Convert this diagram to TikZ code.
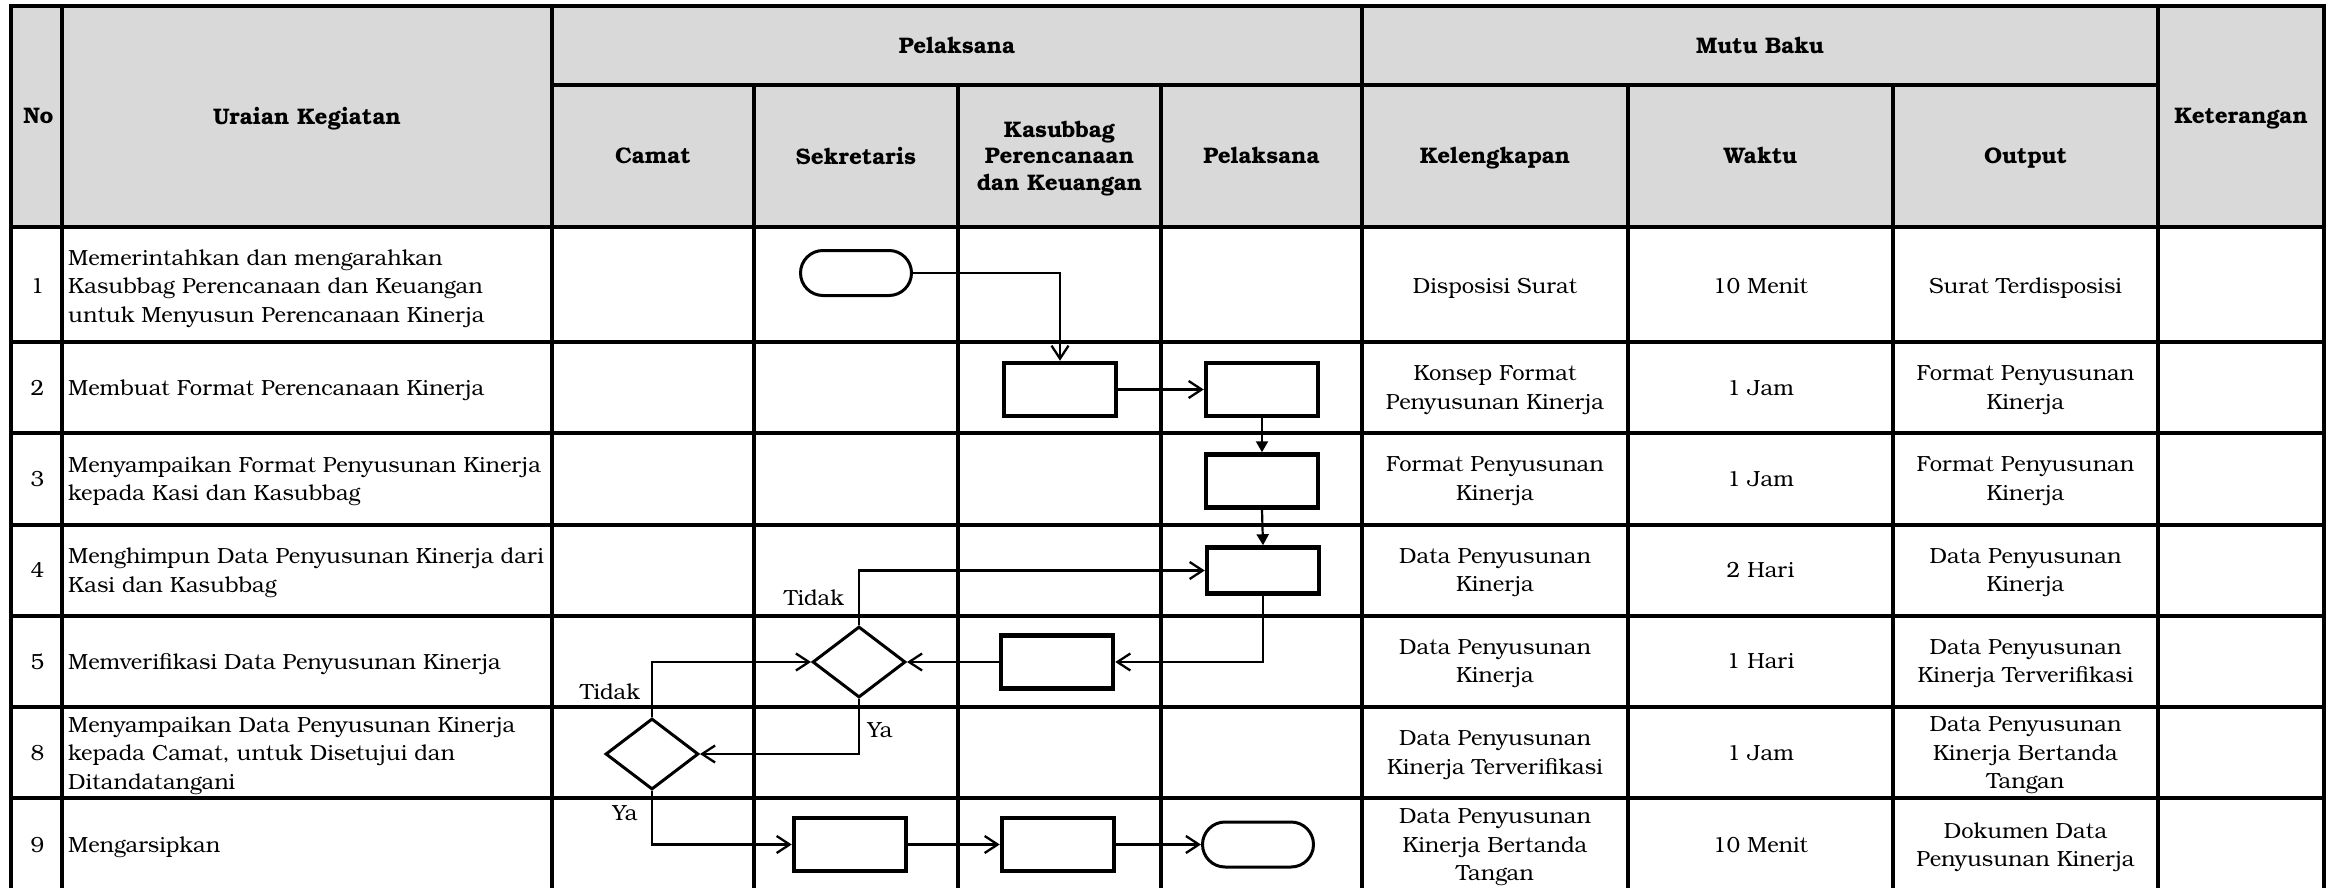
\documentclass[tikz,border=0pt]{standalone}
\usepackage{fontspec}
\setmainfont{texgyrebonum}[Extension=.otf, UprightFont=*-regular, BoldFont=*-bold, ItalicFont=*-italic, BoldItalicFont=*-bolditalic]
\usetikzlibrary{shapes.geometric,shapes.misc,arrows.meta}
\definecolor{hdrgray}{RGB}{217,217,217}
\newcommand\mystrut{\rule[-0.25em]{0pt}{0.95em}}
\tikzset{
  tline/.style={line width=3.1pt},
  stru/.style={execute at begin node=\mystrut, execute at end node=\mystrut, yshift=-2.5pt},
  hdr/.style={font=\fontsize{22.5}{26.7}\selectfont\bfseries, align=center, inner sep=0pt, stru},
  body/.style={font=\fontsize{21.9}{28.5}\selectfont, align=center, inner sep=0pt, stru},
  bodyl/.style={font=\fontsize{21.9}{28.5}\selectfont, align=left, anchor=west, inner sep=0pt, stru},
  lbl/.style={font=\fontsize{21.9}{28.5}\selectfont, inner sep=0pt, stru},
  proc/.style={draw, line width=4.5pt, minimum width=112pt, minimum height=53pt, inner sep=0pt},
  term/.style={draw, rounded rectangle, line width=3pt, minimum width=111pt, minimum height=45pt, inner sep=0pt},
  dec/.style={draw, diamond, line width=3pt, minimum width=93pt, minimum height=71pt, inner sep=0pt},
  flow/.style={line width=2.3pt, -{Straight Barb[length=13pt,width=17pt]}},
  flowf/.style={line width=2.2pt, -{Triangle[length=11pt,width=12pt]}},
}
\begin{document}
\begin{tikzpicture}[x=1pt,y=-1pt]
\useasboundingbox (0,0) rectangle (2327,888);
% header background
\fill[hdrgray] (11,6) rectangle (2324,227);
% table lines
\draw[tline] (11,6) rectangle (2324,891);
\draw[tline] (11,227) -- (2324,227);
\foreach \yy in {342,433,525,616,707,798} \draw[tline] (11,\yy) -- (2324,\yy);
\draw[tline] (552,85) -- (2158,85);
\foreach \xx in {62,552,1362,2158} \draw[tline] (\xx,6) -- (\xx,891);
\foreach \xx in {754,958,1161,1628,1893} \draw[tline] (\xx,85) -- (\xx,891);

% headers
\node[hdr] (hno) at (38.5,116) {No};
\node[hdr] (hur) at (307,116) {Uraian Kegiatan};
\node[hdr] (hpel) at (957,45.5) {Pelaksana};
\node[hdr] (hmutu) at (1760,45.5) {Mutu Baku};
\node[hdr] (hket) at (2241,116) {Keterangan};
\node[hdr] (hcam) at (653,156) {Camat};
\node[hdr] (hsek) at (856,156) {Sekretaris};
\node[hdr] (hkas) at (1059.5,156) {Kasubbag\\Perencanaan\\dan Keuangan};
\node[hdr] (hpl) at (1261.5,156) {Pelaksana};
\node[hdr] (hkel) at (1495,156) {Kelengkapan};
\node[hdr] (hwak) at (1760.5,156) {Waktu};
\node[hdr] (hout) at (2025.5,156) {Output};

% row numbers
\node[body] (n1) at (37.5,286) {1};
\node[body] (n2) at (37.5,388) {2};
\node[body] (n3) at (37.5,479) {3};
\node[body] (n4) at (37.5,570.5) {4};
\node[body] (n5) at (37.5,661.5) {5};
\node[body] (n8) at (37.5,753) {8};
\node[body] (n9) at (37.5,845) {9};

% uraian
\node[bodyl] (u1) at (68,286) {Memerintahkan dan mengarahkan\\Kasubbag Perencanaan dan Keuangan\\untuk Menyusun Perencanaan Kinerja};
\node[bodyl] (u2) at (68,388) {Membuat Format Perencanaan Kinerja};
\node[bodyl] (u3) at (68,479) {Menyampaikan Format Penyusunan Kinerja\\kepada Kasi dan Kasubbag};
\node[bodyl] (u4) at (68,570.5) {Menghimpun Data Penyusunan Kinerja dari\\Kasi dan Kasubbag};
\node[bodyl] (u5) at (68,661.5) {Memverifikasi Data Penyusunan Kinerja};
\node[bodyl] (u8) at (68,753) {Menyampaikan Data Penyusunan Kinerja\\kepada Camat, untuk Disetujui dan\\Ditandatangani};
\node[bodyl] (u9) at (68,845) {Mengarsipkan};

% kelengkapan
\node[body] (k1) at (1495,286) {Disposisi Surat};
\node[body] (k2) at (1495,388) {Konsep Format\\Penyusunan Kinerja};
\node[body] (k3) at (1495,479) {Format Penyusunan\\Kinerja};
\node[body] (k4) at (1495,570.5) {Data Penyusunan\\Kinerja};
\node[body] (k5) at (1495,661.5) {Data Penyusunan\\Kinerja};
\node[body] (k8) at (1495,753) {Data Penyusunan\\Kinerja Terverifikasi};
\node[body] (k9) at (1495,845) {Data Penyusunan\\Kinerja Bertanda\\Tangan};

% waktu
\node[body] (w1) at (1760.5,286) {10 Menit};
\node[body] (w2) at (1760.5,388) {1 Jam};
\node[body] (w3) at (1760.5,479) {1 Jam};
\node[body] (w4) at (1760.5,570.5) {2 Hari};
\node[body] (w5) at (1760.5,661.5) {1 Hari};
\node[body] (w8) at (1760.5,753) {1 Jam};
\node[body] (w9) at (1760.5,845) {10 Menit};

% output
\node[body] (o1) at (2025.5,286) {Surat Terdisposisi};
\node[body] (o2) at (2025.5,388) {Format Penyusunan\\Kinerja};
\node[body] (o3) at (2025.5,479) {Format Penyusunan\\Kinerja};
\node[body] (o4) at (2025.5,570.5) {Data Penyusunan\\Kinerja};
\node[body] (o5) at (2025.5,661.5) {Data Penyusunan\\Kinerja Terverifikasi};
\node[body] (o8) at (2025.5,753) {Data Penyusunan\\Kinerja Bertanda\\Tangan};
\node[body] (o9) at (2025.5,845) {Dokumen Data\\Penyusunan Kinerja};

% flowchart shapes
\node[term] (t1) at (856,273) {};
\node[proc] (b2a) at (1060,389.5) {};
\node[proc] (b2b) at (1262,389.5) {};
\node[proc] (b3) at (1262,481) {};
\node[proc, minimum height=46pt] (b4) at (1263,570.5) {};
\node[proc] (b5) at (1057,662) {};
\node[dec] (d5) at (859,662) {};
\node[dec] (d8) at (652,754) {};
\node[proc] (b9a) at (850,844.5) {};
\node[proc] (b9b) at (1058,844.5) {};
\node[term] (t9) at (1258,844.5) {};

% connectors
\draw[flow] (t1.east) -| (b2a.north);
\draw[flow] (b2a.east) -- (b2b.west);
\draw[flowf] (b2b.south) -- (b3.north);
\draw[flowf] (b3.south) -- (b4.north);
\draw[flow] (b4.south) |- (b5.east);
\draw[flow] (b5.west) -- (d5.east);
\draw[flow] (d5.north) |- (b4.west);
\draw[flow] (d5.south) |- (d8.east);
\draw[flow] (d8.north) |- (d5.west);
\draw[flow] (d8.south) |- (b9a.west);
\draw[flow] (b9a.east) -- (b9b.west);
\draw[flow] (b9b.east) -- (t9.west);

% labels
\node[lbl] (lt1) at (814,598) {Tidak};
\node[lbl] (ly1) at (880,730) {Ya};
\node[lbl] (lt2) at (610,692) {Tidak};
\node[lbl] (ly2) at (625,813) {Ya};
\end{tikzpicture}
\end{document}
